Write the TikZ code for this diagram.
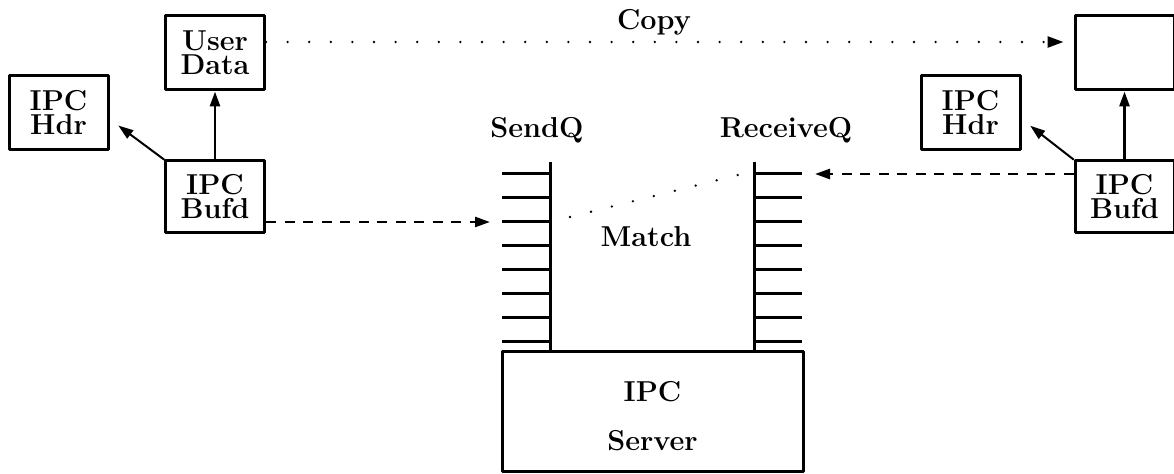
\documentclass[tikz,border=0pt]{standalone}
\usetikzlibrary{arrows.meta}
\begin{document}
\begin{tikzpicture}[line cap=round,line join=round,x=0.5pt,y=-0.5pt,
  font=\fontsize{14.4}{12}\selectfont\bfseries,
  box/.style={draw,line width=1.5pt,align=center,inner sep=0pt,minimum width=49.5pt,minimum height=37pt},
  bar/.style={line width=1.5pt,line cap=butt},
  arr/.style={-{Triangle[length=7.5pt,width=5pt]},line width=1.4pt},
  dasharr/.style={arr,line width=1.3pt,line cap=butt,dash pattern=on 5pt off 4.25pt},
  dotline/.style={line width=1.3pt,line cap=round,dash pattern=on 0pt off 10.8pt}]
						% Rahmen wie im Original
						\useasboundingbox (0,0) rectangle (1174,474);
						% Puffer links
						\node[box] (udata) at (215,53) {User\\Data};
						\node[box] (lhdr) at (58.5,113) {IPC\\Hdr};
						\node[box,minimum height=36pt] (lbufd) at (215,197) {IPC\\Bufd};
						% Puffer rechts
						\node[box] (rbox) at (1124.5,53) {};
						\node[box] (rhdr) at (970.5,113) {IPC\\Hdr};
						\node[box,minimum height=36pt] (rbufd) at (1124.5,197) {IPC\\Bufd};
						% Server mit Warteschlangen
						\node[box,minimum width=150.5pt,minimum height=60pt] (server) at (652.5,412) {\rule{0pt}{14.5pt}IPC\\[12.5pt]Server};
						\node (copy) at (654,22) {Copy};
						\node (sendq) at (537,130) {SendQ};
						\node (recvq) at (786,130) {ReceiveQ};
						\node (match) at (646,237) {Match};
						\coordinate (sq) at (550,162);
						\coordinate (rq) at (754,162);
						\coordinate (s3) at (502,222);
						\coordinate (r1) at (802,174);
						\coordinate (mstart) at (570,217);
						\coordinate (mend) at (754,171);
						\draw[bar] (sq) -- (sq |- server.north);
						\draw[bar] (rq) -- (rq |- server.north);
						\foreach \y in {174,198,...,342}
						{
						\draw[bar] (502,\y) -- (550,\y);
						\draw[bar] (754,\y) -- (802,\y);
						}
						% Pfeile
						\draw[arr] (lbufd) -- (udata);
						\draw[arr] (rbufd) -- (rbox);
						\draw[arr,line width=1pt,shorten >=5.5pt] (lbufd.north west) -- ([yshift=-3pt]lhdr.east);
						\draw[arr,line width=1pt,shorten >=5.5pt] (rbufd.north west) -- ([yshift=-3pt]rhdr.east);
						\draw[dasharr,shorten >=6pt] (lbufd.east |- s3) -- (s3);
						\draw[dasharr,shorten >=6.5pt] (rbufd.west |- r1) -- (r1);
						\draw[dotline,-{Triangle[length=8pt,width=5.5pt]},shorten >=5pt] ([yshift=5.5pt]udata.east) -- ([yshift=5.5pt]rbox.west);
						\draw[dotline] (mstart) -- (mend);
					\end{tikzpicture}
\end{document}
